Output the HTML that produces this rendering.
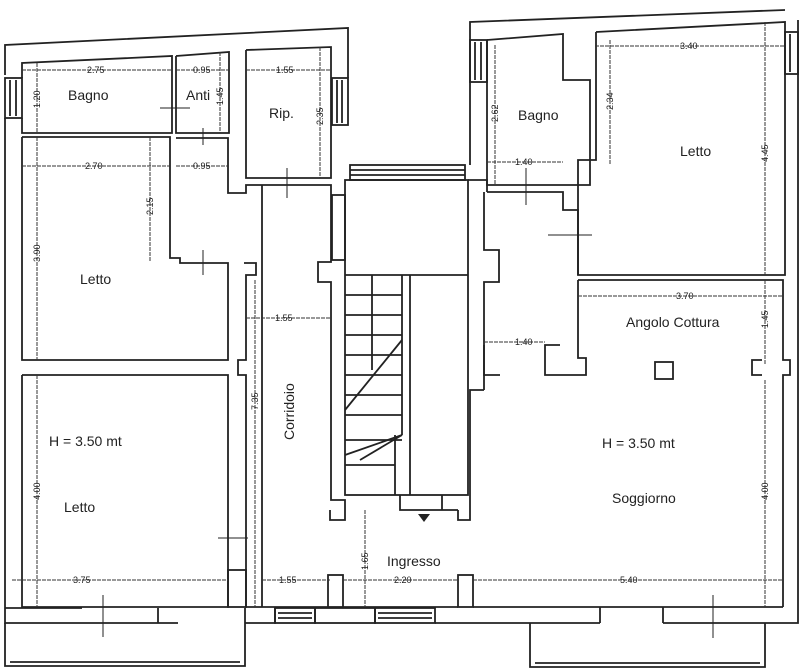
<!DOCTYPE html>
<html><head><meta charset="utf-8"><style>
html,body{margin:0;padding:0;background:#fff;}
svg{display:block;}
text{font-family:"Liberation Sans",sans-serif;fill:#222;}
.w{fill:none;stroke:#222;stroke-width:1.8;}
.d{fill:none;stroke:#333;stroke-width:1;stroke-dasharray:4 1;}
.t{font-size:14px;}
.s{font-size:9px;}
</style></head><body>
<svg width="800" height="670" viewBox="0 0 800 670" xmlns="http://www.w3.org/2000/svg">
<polyline class="w" points="5,75 5,45 348,28 348,78"/>
<polyline class="w" points="5,118 5,623 178,623"/>
<line class="w" x1="5" y1="608" x2="82" y2="608"/>
<rect class="w" x="5" y="78" width="17" height="40"/>
<line class="w" x1="10" y1="80" x2="10" y2="116"/><line class="w" x1="16" y1="80" x2="16" y2="116"/>
<rect class="w" x="332" y="78" width="16" height="47"/>
<line class="w" x1="337" y1="80" x2="337" y2="123"/><line class="w" x1="342" y1="80" x2="342" y2="123"/>
<polyline class="w" points="22,78 22,63 172,56 172,133 22,133 22,118"/>
<polyline class="w" points="176,56 229,52 229,133 176,133 176,56"/>
<polyline class="w" points="246,50 331,47 331,178 246,178 246,50"/>
<polyline class="w" points="22,137 170,137 170,258 180,258 180,263 228,263 228,360 22,360 22,137"/>
<polyline class="w" points="176,138 228,138 228,193 246,193 246,185 331,185 331,198"/>
<polyline class="w" points="22,375 228,375 228,607 22,607 22,375"/>
<polyline class="w" points="244,263 256,263 256,275 246,275 246,360 238,360 238,375 246,375 246,570"/>
<polyline class="w" points="158,608 158,623"/><polyline class="w" points="245,608 245,623"/>
<line class="w" x1="262" y1="185" x2="262" y2="607"/>
<polyline class="w" points="246,570 246,607 262,607"/>
<rect class="w" x="228" y="570" width="18" height="37"/>
<polyline class="w" points="331,198 331,262 318,262 318,282 331,282 331,500 345,500 345,510"/>
<rect class="w" x="345" y="180" width="123" height="315"/>
<rect class="w" x="350" y="165" width="115" height="15"/>
<line class="w" x1="350" y1="170" x2="465" y2="170"/><line class="w" x1="350" y1="175" x2="465" y2="175"/>
<rect class="w" x="332" y="195" width="13" height="65"/>
<line class="w" x1="345" y1="275" x2="468" y2="275"/>
<line class="w" x1="402" y1="275" x2="402" y2="435"/><line class="w" x1="410" y1="275" x2="410" y2="495"/>
<g class="w">
<line x1="345" y1="295" x2="402" y2="295"/><line x1="345" y1="315" x2="402" y2="315"/>
<line x1="345" y1="335" x2="402" y2="335"/><line x1="345" y1="355" x2="402" y2="355"/>
<line x1="345" y1="375" x2="402" y2="375"/><line x1="345" y1="395" x2="402" y2="395"/>
<line x1="345" y1="415" x2="402" y2="415"/><line x1="345" y1="440" x2="402" y2="440"/>
<line x1="345" y1="465" x2="395" y2="465"/>
<line x1="372" y1="275" x2="372" y2="370"/>
<line x1="345" y1="410" x2="402" y2="340"/>
<line x1="345" y1="455" x2="402" y2="435"/><line x1="360" y1="460" x2="402" y2="435"/>
<line x1="395" y1="435" x2="395" y2="495"/>
</g>
<polyline class="w" points="400,495 400,510 458,510"/><line class="w" x1="442" y1="495" x2="442" y2="510"/>
<polyline class="w" points="330,510 330,520 345,520 345,510"/>
<polyline class="w" points="458,510 458,520 470,520 470,390 484,390"/>
<polygon points="418,514 430,514 424,522" fill="#222"/>
<line class="w" x1="262" y1="607" x2="328" y2="607"/>
<rect class="w" x="328" y="575" width="15" height="32"/>
<rect class="w" x="458" y="575" width="15" height="32"/>
<line class="w" x1="343" y1="607" x2="458" y2="607"/>
<line class="w" x1="473" y1="607" x2="783" y2="607"/>
<polyline class="w" points="245,623 275,623 275,608"/>
<rect class="w" x="275" y="608" width="40" height="15"/>
<line class="w" x1="278" y1="613" x2="312" y2="613"/><line class="w" x1="278" y1="618" x2="312" y2="618"/>
<rect class="w" x="315" y="608" width="60" height="15"/>
<rect class="w" x="375" y="608" width="60" height="15"/>
<line class="w" x1="378" y1="613" x2="432" y2="613"/><line class="w" x1="378" y1="618" x2="432" y2="618"/>
<polyline class="w" points="435,623 600,623"/><polyline class="w" points="663,623 798,623 798,20"/>
<line class="w" x1="600" y1="607" x2="600" y2="623"/><line class="w" x1="663" y1="607" x2="663" y2="623"/>
<polyline class="w" points="5,623 5,666 245,666 245,623"/>
<line class="w" x1="10" y1="662" x2="240" y2="662"/>
<polyline class="w" points="530,623 530,667 765,667 765,623"/>
<line class="w" x1="535" y1="663" x2="760" y2="663"/>
<polyline class="w" points="470,165 470,22 785,10"/>
<rect class="w" x="470" y="40" width="17" height="42"/>
<line class="w" x1="475" y1="42" x2="475" y2="80"/><line class="w" x1="481" y1="42" x2="481" y2="80"/>
<polyline class="w" points="487,40 563,34 563,80 590,80 590,185 487,185 487,40"/>
<polyline class="w" points="596,32 785,22 785,275 578,275 578,160 596,160 596,32"/>
<rect class="w" x="785" y="32" width="13" height="42"/>
<line class="w" x1="790" y1="34" x2="790" y2="72"/>
<polyline class="w" points="487,192 563,192 563,210 578,210 578,275"/>
<polyline class="w" points="468,180 487,180 487,192"/>
<polyline class="w" points="484,192 484,250 499,250 499,282 484,282 484,390"/>
<polyline class="w" points="578,280 783,280 783,360 790,360 790,375 783,375 783,607"/>
<polyline class="w" points="578,280 578,358 586,358 586,375 545,375 545,345 560,345"/>
<polyline class="w" points="484,345 484,375 500,375"/>
<rect class="w" x="655" y="362" width="18" height="17"/>
<polyline class="w" points="762,360 752,360 752,375 762,375"/>
<line class="d" x1="22" y1="70" x2="172" y2="70"/>
<line class="d" x1="176" y1="70" x2="229" y2="70"/>
<line class="d" x1="246" y1="70" x2="331" y2="70"/>
<line class="d" x1="37" y1="63" x2="37" y2="133"/>
<line class="d" x1="220" y1="52" x2="220" y2="133"/>
<line class="d" x1="320" y1="47" x2="320" y2="178"/>
<line class="d" x1="22" y1="166" x2="170" y2="166"/>
<line class="d" x1="176" y1="166" x2="228" y2="166"/>
<line class="d" x1="150" y1="137" x2="150" y2="262"/>
<line class="d" x1="37" y1="137" x2="37" y2="360"/>
<line class="d" x1="246" y1="318" x2="331" y2="318"/>
<line class="d" x1="255" y1="280" x2="255" y2="607"/>
<line class="d" x1="37" y1="375" x2="37" y2="607"/>
<line class="d" x1="12" y1="580" x2="228" y2="580"/>
<line class="d" x1="262" y1="580" x2="330" y2="580"/>
<line class="d" x1="343" y1="580" x2="458" y2="580"/>
<line class="d" x1="473" y1="580" x2="783" y2="580"/>
<line class="d" x1="365" y1="510" x2="365" y2="607"/>
<line class="d" x1="495" y1="45" x2="495" y2="185"/>
<line class="d" x1="487" y1="162" x2="563" y2="162"/>
<line class="d" x1="595" y1="46" x2="785" y2="46"/>
<line class="d" x1="610" y1="40" x2="610" y2="165"/>
<line class="d" x1="765" y1="22" x2="765" y2="275"/>
<line class="d" x1="578" y1="296" x2="783" y2="296"/>
<line class="d" x1="765" y1="280" x2="765" y2="365"/>
<line class="d" x1="484" y1="342" x2="545" y2="342"/>
<line class="d" x1="765" y1="380" x2="765" y2="607"/>
<g class="w" style="stroke-width:1">
<line x1="160" y1="108" x2="190" y2="108"/><line x1="203" y1="128" x2="203" y2="145"/>
<line x1="287" y1="168" x2="287" y2="198"/><line x1="203" y1="250" x2="203" y2="275"/>
<line x1="218" y1="538" x2="248" y2="538"/><line x1="103" y1="595" x2="103" y2="637"/>
<line x1="526" y1="168" x2="526" y2="205"/><line x1="548" y1="235" x2="592" y2="235"/>
<line x1="713" y1="595" x2="713" y2="638"/>
</g>
<text class="t" x="68" y="100">Bagno</text>
<text class="t" x="186" y="100">Anti</text>
<text class="t" x="269" y="118">Rip.</text>
<text class="t" x="80" y="284">Letto</text>
<text class="t" x="49" y="446">H = 3.50 mt</text>
<text class="t" x="64" y="512">Letto</text>
<text class="t" transform="translate(294,440) rotate(-90)">Corridoio</text>
<text class="t" x="387" y="566">Ingresso</text>
<text class="t" x="518" y="120">Bagno</text>
<text class="t" x="680" y="156">Letto</text>
<text class="t" x="626" y="327">Angolo Cottura</text>
<text class="t" x="602" y="448">H = 3.50 mt</text>
<text class="t" x="612" y="503">Soggiorno</text>
<g class="s">
<text x="87" y="73">2.75</text><text x="193" y="73">0.95</text><text x="276" y="73">1.55</text>
<text x="85" y="169">2.70</text><text x="193" y="169">0.95</text>
<text x="275" y="321">1.55</text><text x="515" y="165">1.40</text><text x="515" y="345">1.40</text>
<text x="680" y="49">3.40</text><text x="676" y="299">3.70</text>
<text x="73" y="583">3.75</text>
<text x="279" y="583">1.55</text><text x="394" y="583">2.20</text>
<text x="620" y="583">5.40</text>
<text transform="translate(40,108) rotate(-90)">1.20</text>
<text transform="translate(223,105) rotate(-90)">1.45</text>
<text transform="translate(323,125) rotate(-90)">2.35</text>
<text transform="translate(153,215) rotate(-90)">2.15</text>
<text transform="translate(40,262) rotate(-90)">3.90</text>
<text transform="translate(258,410) rotate(-90)">7.35</text>
<text transform="translate(40,500) rotate(-90)">4.00</text>
<text transform="translate(368,570) rotate(-90)">1.65</text>
<text transform="translate(498,122) rotate(-90)">2.62</text>
<text transform="translate(613,110) rotate(-90)">2.34</text>
<text transform="translate(768,162) rotate(-90)">4.45</text>
<text transform="translate(768,328) rotate(-90)">1.45</text>
<text transform="translate(768,500) rotate(-90)">4.00</text>
</g>
</svg>
</body></html>
